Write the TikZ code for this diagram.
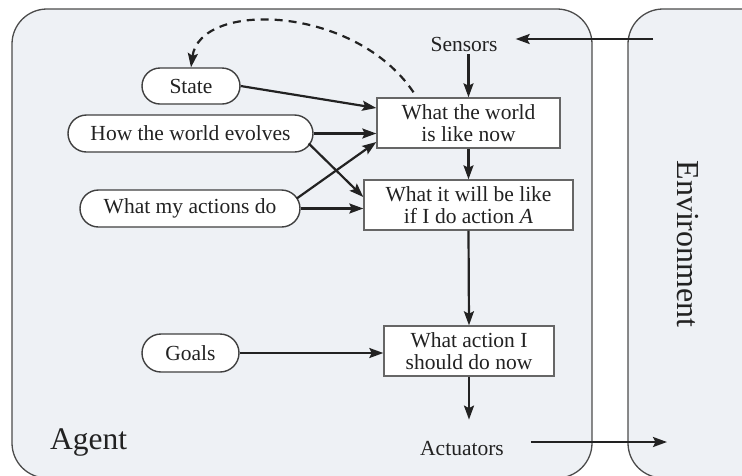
\documentclass[tikz,border=0pt]{standalone}
\usepackage{fontspec}
\setmainfont{Liberation Serif}
\usetikzlibrary{arrows.meta,shapes.misc,calc}
\definecolor{agentbg}{HTML}{EEF1F5}
\definecolor{ink}{HTML}{222222}
\begin{document}
\begin{tikzpicture}[x=1pt,y=-1pt,
  every node/.style={font=\fontsize{21.5}{21.5}\selectfont, text=ink},
  pill/.style={rounded rectangle, draw=black!75, line width=1.4pt, fill=white, inner sep=0pt},
  boxn/.style={rectangle, draw=black!60, line width=1.4pt, fill=white, inner sep=0pt, align=center},
  arr/.style={line width=2.2pt, draw=ink, -{Stealth[length=14pt,width=10pt,inset=2.5pt]}},
  frame/.style={draw=black!70, line width=1.3pt, fill=agentbg, rounded corners=35pt}]
\useasboundingbox (0,0) rectangle (742,475);
\begin{scope}
  \clip (0,0) rectangle (742,475);
  \path[frame] (12,9) rectangle (592,478);
  \path[frame] (628,9) rectangle (800,478);
\end{scope}

\node[pill, minimum width=98pt, minimum height=36pt] (state) at (191,86) {State};
\node[pill, minimum width=245pt, minimum height=37pt] (how) at (190.5,133.5) {How the world evolves};
\node[pill, minimum width=220pt, minimum height=37pt] (act) at (190,208.5) {What my actions do};
\node[pill, minimum width=97pt, minimum height=38pt] (goals) at (190.5,353) {Goals};

\node[boxn, minimum width=183pt, minimum height=50pt] (b1) at (468.5,123) {What the world\\is like now};
\node[boxn, minimum width=209pt, minimum height=50pt] (b2) at (468.5,205) {What it will be like\\if I do action \textit{A}};
\node[boxn, minimum width=170pt, minimum height=50pt] (b3) at (469,351) {What action I\\should do now};

\node[inner xsep=18pt, inner ysep=3pt] (sens) at (464,44) {Sensors};
\node[inner xsep=27pt, inner ysep=21pt] (actu) at (462,448) {Actuators};

\node[anchor=base west, font=\fontsize{31.5}{32}\selectfont, inner sep=0pt] (agent) at (50,449) {Agent};
\node[rotate=-90, font=\fontsize{32}{32}\selectfont, inner sep=0pt] (env) at (688,244) {Environment};

\coordinate (sin) at (653,39);
\coordinate (aout) at (667,442);

\draw[arr] (sin) -- (sin -| sens.east);
\draw[arr] (b1.north |- sens.south) -- (b1.north);
\draw[arr] (state.east) -- ([yshift=15pt]b1.west);
\draw[arr] (how.east) -- (how.east -| b1.west);
\draw[arr] ($(how.east)+(-5,10)$) -- ([yshift=8pt]b2.west);
\draw[arr] ($(act.east)+(-4,-10)$) -- ([yshift=-19pt]b1.west);
\draw[arr] (act.east) -- (act.east -| b2.west);
\draw[arr] (b1.south) -- (b2.north);
\draw[arr] (b2.south) -- (b3.north);
\draw[arr] (goals.east) -- (goals.east -| b3.west);
\draw[arr] (b3.south) -- (b3.south |- actu.north);
\draw[arr] ([yshift=6pt]actu.east) -- (aout);
\draw[arr, dash pattern=on 8pt off 6pt] ([xshift=-55pt,yshift=5pt]b1.north) .. controls (355,5) and (200,0) .. (state.north);
\end{tikzpicture}
\end{document}
